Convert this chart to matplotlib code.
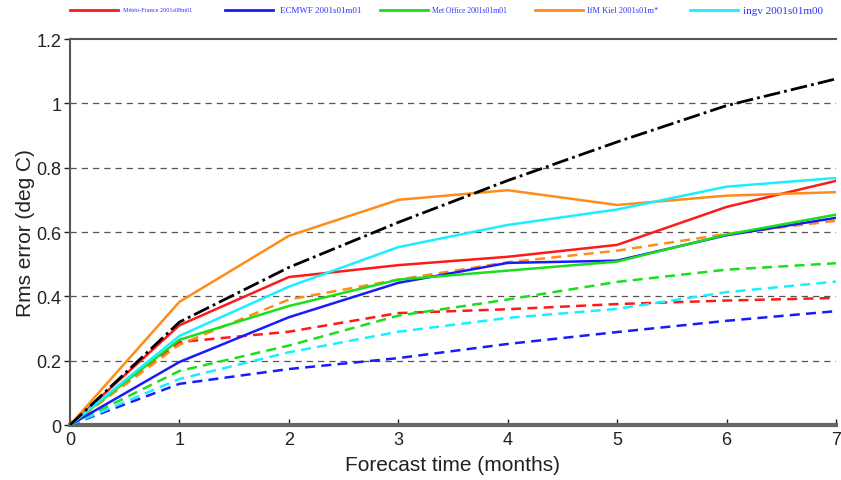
import matplotlib.pyplot as plt
from matplotlib.lines import Line2D

plt.rcParams["font.family"] = ["Liberation Sans", "DejaVu Sans"]

# RMS error of SST forecasts vs lead time, per model (solid) and persistence-like reference (dashed)
months = [0, 1, 2, 3, 4, 5, 6, 7]

ref_black = [0, 0.32, 0.49, 0.63, 0.76, 0.88, 0.993, 1.076]

mf_solid = [0, 0.31, 0.46, 0.497, 0.523, 0.56, 0.678, 0.759]
ec_solid = [0, 0.196, 0.335, 0.442, 0.504, 0.511, 0.59, 0.644]
mo_solid = [0, 0.265, 0.37, 0.452, 0.48, 0.508, 0.592, 0.654]
ifm_solid = [0, 0.383, 0.588, 0.70, 0.73, 0.684, 0.713, 0.724]
ingv_solid = [0, 0.277, 0.43, 0.553, 0.622, 0.67, 0.741, 0.768]

mf_dash = [0, 0.258, 0.29, 0.348, 0.36, 0.376, 0.387, 0.395]
ec_dash = [0, 0.128, 0.174, 0.208, 0.252, 0.289, 0.324, 0.354]
mo_dash = [0, 0.168, 0.247, 0.34, 0.39, 0.445, 0.483, 0.503]
ifm_dash = [0, 0.25, 0.39, 0.452, 0.506, 0.542, 0.594, 0.635]
ingv_dash = [0, 0.143, 0.226, 0.29, 0.333, 0.361, 0.413, 0.446]

colors = ["#ff1a1a", "#1a1aff", "#1adf1a", "#ff8c1a", "#1aefff"]
labels = ["Météo-France 2001s08m01", "ECMWF 2001s01m01", "Met Office 2001s01m01",
          "IfM Kiel 2001s01m*", "ingv 2001s01m00"]
solid = [mf_solid, ec_solid, mo_solid, ifm_solid, ingv_solid]
dashed = [mf_dash, ec_dash, mo_dash, ifm_dash, ingv_dash]

fig = plt.figure(figsize=(8.41, 4.81), dpi=100)
ax = fig.add_axes([0.0832, 0.1143, 0.9108, 0.8025])

for yv in [0.2, 0.4, 0.6, 0.8, 1.0]:
    ax.axhline(yv, color="#555555", linestyle=(0, (5, 4)), linewidth=0.9, zorder=1)

for vals, c in zip(dashed, colors):
    ax.plot(months, vals, color=c, linestyle=(0, (4, 2.5)), linewidth=1.8, zorder=3)
for vals, c in zip(solid, colors):
    ax.plot(months, vals, color=c, linewidth=1.8, zorder=4)
ax.plot(months, ref_black, color="black", linestyle=(0, (6, 1.5, 1, 1.5)), linewidth=2.0, zorder=5)

ax.set_xlim(0, 7)
ax.set_ylim(0, 1.2)
ax.set_xticks(months)
ax.set_yticks([0, 0.2, 0.4, 0.6, 0.8, 1.0, 1.2])
ax.set_yticklabels(["0", "0.2", "0.4", "0.6", "0.8", "1", "1.2"])
ax.tick_params(labelsize=13, colors="#222222", length=4, width=1, direction="in")
ax.tick_params(axis="x", pad=4)
ax.tick_params(axis="y", direction="out", pad=2)
for s in ["top", "left"]:
    ax.spines[s].set_color("#555555")
    ax.spines[s].set_linewidth(1.5)
ax.spines["bottom"].set_color("#666666")
ax.spines["bottom"].set_linewidth(3)
ax.spines["right"].set_visible(False)
ax.set_xlabel("Forecast time (months)", fontsize=15, labelpad=5, color="#222222")
ax.set_ylabel("Rms error (deg C)", fontsize=15, labelpad=1, color="#222222")

# legend strip along the top edge
line_x = [70, 225, 380, 535, 690]
text_x = [123, 280, 432, 587, 743]
text_size = [4.5, 6.5, 5.5, 6, 8]
y_fig = 1 - 11 / 481
for lx, tx, c, lab, fs in zip(line_x, text_x, colors, labels, text_size):
    fig.add_artist(Line2D([lx / 841, (lx + 48) / 841], [y_fig, y_fig], color=c, linewidth=2))
    fig.text(tx / 841, y_fig, lab, color="#3030ff", fontsize=fs, family="Liberation Serif",
             va="center", ha="left")

fig.savefig("out.png", dpi=100)
